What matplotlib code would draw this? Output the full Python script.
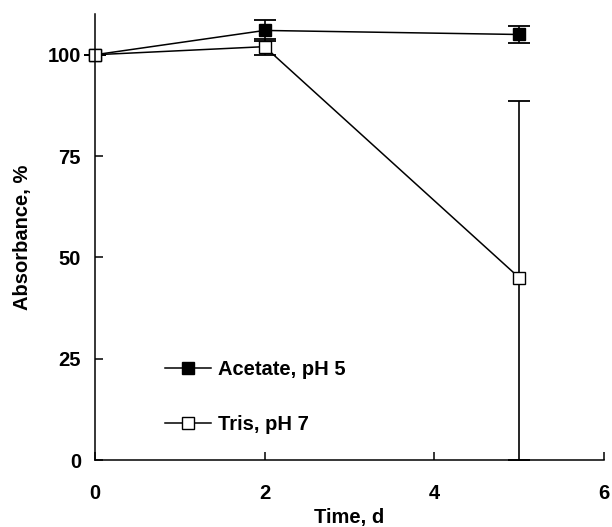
import matplotlib
matplotlib.use('Agg')
import matplotlib.pyplot as plt

plt.rcParams['font.family'] = ['Liberation Sans', 'DejaVu Sans']
plt.rcParams['font.weight'] = 'bold'

time_d = [0, 2, 5]
acetate = [100, 106, 105]
acetate_err = [0, 2.5, 2.2]
tris = [100, 102, 45]
tris_err_low = [0, 2.0, 45]
tris_err_high = [0, 2.0, 43.5]

fig = plt.figure(figsize=(6.12, 5.27), dpi=100)
ax = fig.add_axes([0.155, 0.127, 0.832, 0.846])

ax.errorbar(time_d, acetate, yerr=acetate_err, color='black', lw=1.2,
            capsize=8, capthick=1.3, elinewidth=1.2, fmt='none', clip_on=False)
ax.errorbar(time_d, tris, yerr=[tris_err_low, tris_err_high], color='black', lw=1.2,
            capsize=8, capthick=1.3, elinewidth=1.2, fmt='none', clip_on=False)
ax.plot(time_d, acetate, color='black', lw=1.1, marker='s', ms=9,
        mfc='black', mec='black', mew=1, label='Acetate, pH 5', clip_on=False)
ax.plot(time_d, tris, color='black', lw=1.1, marker='s', ms=9,
        mfc='white', mec='black', mew=1, label='Tris, pH 7', clip_on=False)

ax.set_xlim(0, 6)
ax.set_ylim(0, 110)
ax.set_xticks([0, 2, 4, 6])
ax.set_yticks([0, 25, 50, 75, 100])
ax.spines['top'].set_visible(False)
ax.spines['right'].set_visible(False)
ax.spines['left'].set_linewidth(1.1)
ax.spines['bottom'].set_linewidth(1.1)
ax.tick_params(direction='in', length=6, width=1.1, labelsize=14.5)
ax.tick_params(axis='x', pad=17)
ax.tick_params(axis='y', pad=10)
ax.set_xlabel('Time, d', fontsize=14.5, fontweight='bold', labelpad=4)
ax.set_ylabel('Absorbance, %', fontsize=14.5, fontweight='bold', labelpad=11)

ax.legend(loc='lower left', bbox_to_anchor=(0.27, 0.177), bbox_transform=fig.transFigure,
          frameon=False, fontsize=14.5, handlelength=2.25, handletextpad=0.35,
          labelspacing=1.75, borderpad=0, borderaxespad=0)

fig.savefig('out.png', dpi=100)
